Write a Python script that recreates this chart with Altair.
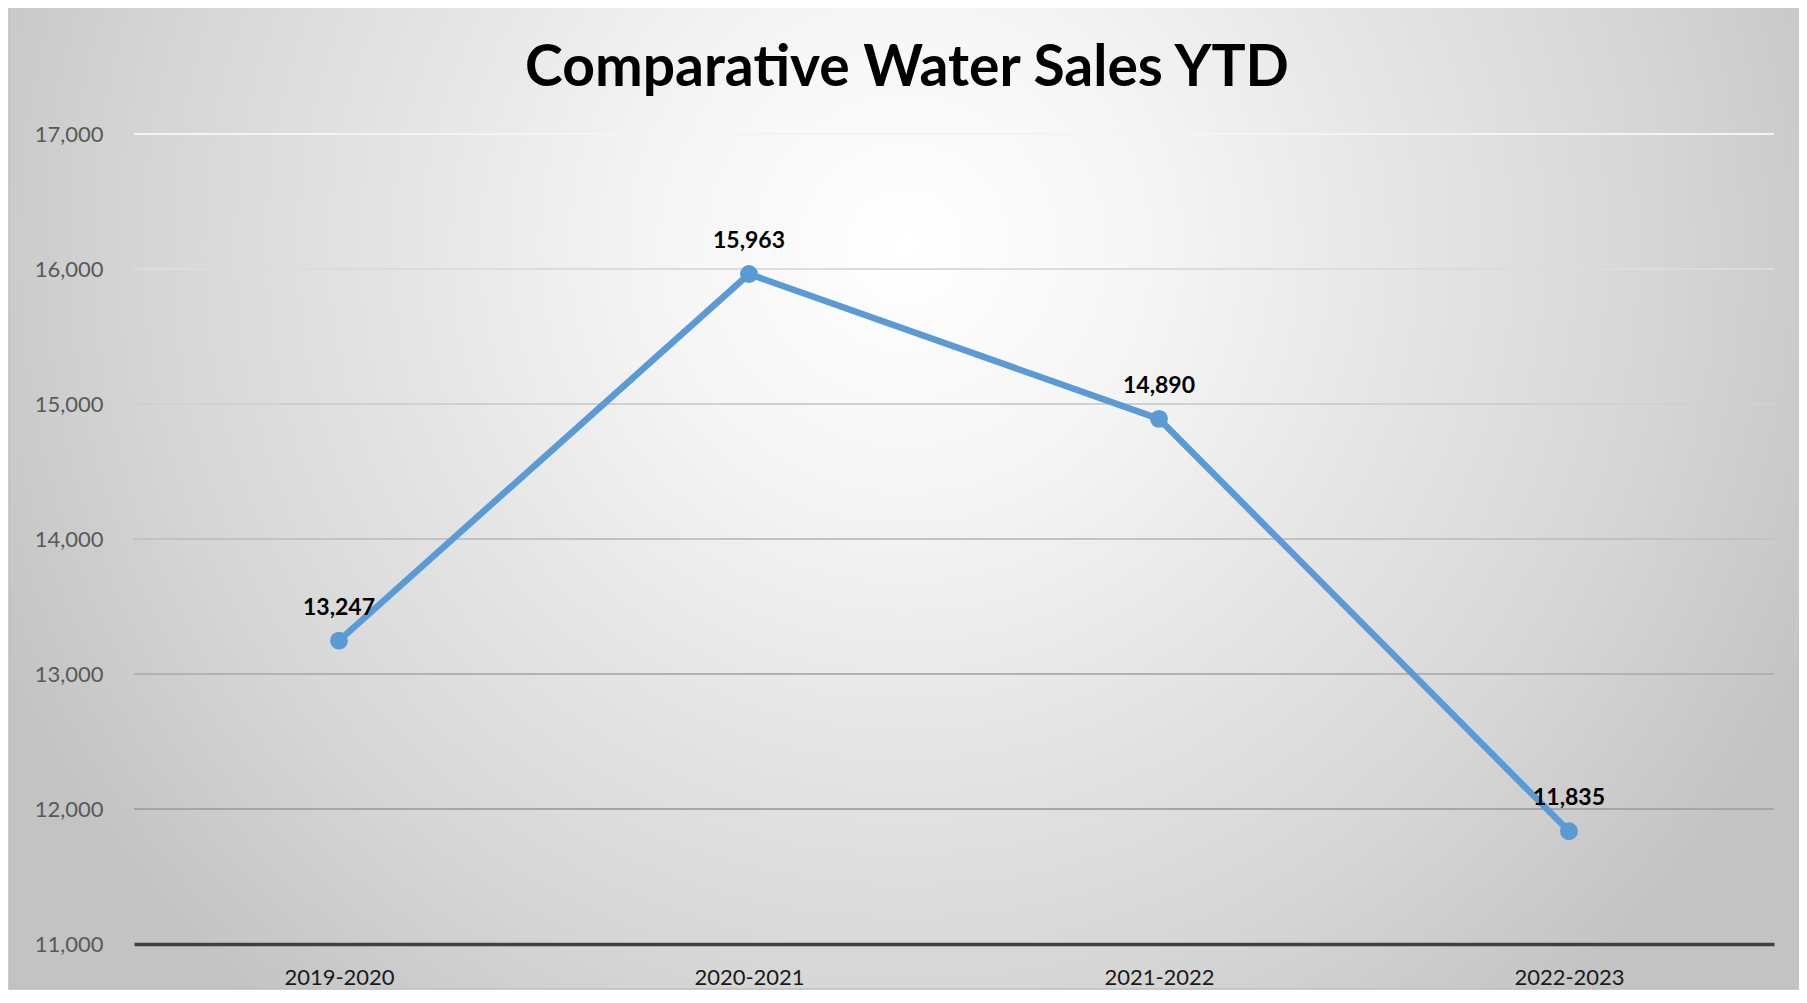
import altair as alt
import pandas as pd

# ---- data ----
seasons = ["2019-2020", "2020-2021", "2021-2022", "2022-2023"]
sales = [13247, 15963, 14890, 11835]

y_ticks = [11000, 12000, 13000, 14000, 15000, 16000, 17000]
grid_values = [12000, 13000, 14000, 15000, 16000, 17000]
grid_colors = ["#a6a6a6", "#b2b2b2", "#c2c2c2", "#d0d0d0", "#dcdcdc", "#f4f4f4"]

title_text = "Comparative Water Sales YTD"

df = pd.DataFrame({"season": seasons, "sales": sales})
grid_df = pd.DataFrame({"v": grid_values, "c": grid_colors})
title_df = pd.DataFrame({"t": [title_text]})

W, H = 1640, 810
BLUE = "#5B9BD5"
FONT = "Lato"
YSCALE = alt.Scale(domain=[11000, 17000], nice=False, zero=False)
Y_AXIS = alt.Axis(
    title=None, values=y_ticks, labelExpr="format(datum.value, ',')",
    grid=False, ticks=False,
    domain=False, labelFont=FONT, labelFontSize=22, labelColor="#595959",
    labelPadding=31, zindex=2,
)

x_enc = alt.X(
    "season:N",
    sort=seasons,
    scale=alt.Scale(type="point", padding=0.5),
    axis=alt.Axis(
        title=None, labelAngle=0, ticks=False, grid=False,
        domain=True, domainColor="#404040", domainWidth=3.5,
        labelFont=FONT, labelFontSize=22, labelColor="#1a1a1a",
        labelPadding=23, zindex=2,
    ),
)
y_enc = alt.Y("sales:Q", scale=YSCALE, axis=Y_AXIS)

gradient = {
    "gradient": "radial",
    "x1": 0.5, "y1": 0.36, "r1": 0,
    "x2": 0.5, "y2": 0.36, "r2": 0.56,
    "stops": [
        {"offset": 0.0, "color": "#ffffff"},
        {"offset": 0.25, "color": "#f5f5f5"},
        {"offset": 0.5, "color": "#e5e5e5"},
        {"offset": 0.75, "color": "#d6d6d6"},
        {"offset": 1.0, "color": "#c3c3c3"},
    ],
}

background = alt.Chart(alt.Data(values=[{"a": 1}])).mark_rect(
    fill=gradient, stroke="#bdbdbd", strokeWidth=1.5
).encode(
    x=alt.value(-125), x2=alt.value(1668),
    y=alt.value(-128), y2=alt.value(855),
)

grid = alt.Chart(grid_df).mark_rule(strokeWidth=2).encode(
    y=alt.Y("v:Q", scale=YSCALE, axis=Y_AXIS),
    x=alt.value(0), x2=alt.value(W),
    color=alt.Color("c:N", scale=None),
)

base = alt.Chart(df).encode(x=x_enc, y=y_enc)

line = base.mark_line(color=BLUE, strokeWidth=6.5, strokeCap="round")
points = base.mark_circle(color=BLUE, size=320, opacity=1)
labels = base.mark_text(
    font=FONT, fontSize=23, fontWeight="bold", color="#000000",
    dy=-26, baseline="alphabetic", align="center",
).encode(text=alt.Text("sales:Q", format=","))

title = alt.Chart(title_df).mark_text(
    font=FONT, fontSize=57, fontWeight="bold", color="#000000",
    align="center", baseline="alphabetic",
).encode(text="t:N", x=alt.value(773), y=alt.value(-48))

chart = alt.layer(background, grid, line, points, labels, title).properties(
    width=W, height=H,
    autosize=alt.AutoSizeParams(type="none"),
    padding={"left": 126, "top": 126, "right": 25, "bottom": 46},
).configure_view(stroke=None).configure(background="#ffffff")

chart.save("out.html", embed_options={"renderer": "svg", "actions": False})
